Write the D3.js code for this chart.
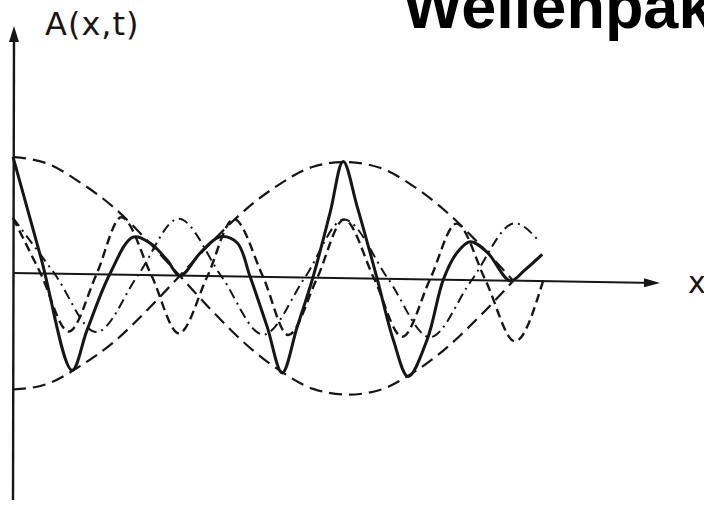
<!DOCTYPE html>
<html>
<head>
<meta charset="utf-8">
<script src="https://cdn.jsdelivr.net/npm/d3@7"></script>
<style>
  body { margin: 0; background: #fff; }
  svg { display: block; }
</style>
</head>
<body>
<svg id="chart"></svg>
<script>
// values; x in arbitrary units (node at 5 and 15), A in units of one component amplitude
var envX = [0, 1, 2, 3, 4, 5, 6, 7, 8, 9, 10, 11, 12, 13, 14, 15];
var envA = [2.02, 1.92, 1.6, 1.18, 0.62, 0, -0.62, -1.18, -1.62, -1.93, -2.02, -1.93, -1.62, -1.18, -0.62, 0];

var wave1X = [0, 0.83, 1.67, 2.5, 3.25, 4.15, 4.97, 5.83, 6.62, 7.5, 8.25, 9.12, 9.93, 10.83, 11.67, 12.5, 13.3, 14.17, 15.05, 15.9];
var wave1A = [0.96, 0, -1, 0, 1, 0, -1, 0, 1, 0, -1, 0, 1.02, 0, -1, 0, 0.98, 0, -1.05, 0.02];

var wave2X = [0, 1.25, 2.5, 3.75, 4.97, 6.25, 7.5, 8.75, 9.93, 11.25, 12.5, 13.75, 15.05, 15.8];
var wave2A = [0.96, 0, -1, 0, 0.99, 0, -1, 0, 1.02, 0, -1, 0, 1.0, 0.68];

var sumX = [0, 0.85, 1.77, 2.22, 2.91, 3.6, 4.11, 4.62, 5.01, 5.61, 6.21, 6.72, 7.11, 7.62, 8.07, 8.52, 9.0, 9.51, 9.9, 10.32, 10.92, 11.4, 11.85, 12.42, 12.9, 13.32, 13.71, 14.22, 14.91, 15.36, 15.87];
var sumA = [2.02, 0.25, -1.67, -0.97, 0.02, 0.66, 0.56, 0.27, 0, 0.4, 0.69, 0.59, 0, -0.86, -1.66, -0.86, 0.02, 1.14, 2.03, 1.25, 0, -1.05, -1.69, -1.04, 0, 0.48, 0.67, 0.49, 0, 0.2, 0.47];

var xMax = 19.4, aTop = 4.26, aBottom = -3.94;

var width = 704, height = 511;
var origin = { left: 13, top: 273 };
var ink = "#161616";

var svg = d3.select("#chart")
    .attr("width", width)
    .attr("height", height);

var x = d3.scaleLinear().domain([0, xMax]).range([0, 647]);
var y = d3.scaleLinear().domain([aBottom, aTop]).range([227, -245]);

// the drawing's x axis droops a little to the right
var plot = svg.append("g")
    .attr("transform", "translate(" + origin.left + "," + origin.top + ") skewY(0.88)");

function pts(xs, as) {
	return xs.map(function(d, i) { return [d, as[i]]; });
}

var smooth = d3.line()
    .x(function(d) { return x(d[0]); })
    .y(function(d) { return y(d[1]); })
    .curve(d3.curveMonotoneX);

var sketch = d3.line()
    .x(function(d) { return x(d[0]); })
    .y(function(d) { return y(d[1]); })
    .curve(d3.curveCatmullRom.alpha(0.5));

// envelope, both signs
plot.append("path")
    .attr("d", smooth(pts(envX, envA)))
    .attr("fill", "none").attr("stroke", ink)
    .attr("stroke-width", 2.2).attr("stroke-dasharray", "13,7");
plot.append("path")
    .attr("d", smooth(pts(envX, envA.map(function(a) { return -a; }))))
    .attr("fill", "none").attr("stroke", ink)
    .attr("stroke-width", 2.2).attr("stroke-dasharray", "13,7");

// the two partial waves
plot.append("path")
    .attr("d", smooth(pts(wave1X, wave1A)))
    .attr("fill", "none").attr("stroke", ink)
    .attr("stroke-width", 2.4).attr("stroke-dasharray", "9,5");
plot.append("path")
    .attr("d", smooth(pts(wave2X, wave2A)))
    .attr("fill", "none").attr("stroke", ink)
    .attr("stroke-width", 2).attr("stroke-dasharray", "10,5,2,5");

// superposition
plot.append("path")
    .attr("d", sketch(pts(sumX, sumA)))
    .attr("fill", "none").attr("stroke", ink)
    .attr("stroke-width", 3).attr("stroke-linejoin", "round");

// axes
plot.append("line")
    .attr("x1", x(0)).attr("y1", 0)
    .attr("x2", x(xMax) - 4).attr("y2", 0)
    .attr("stroke", ink).attr("stroke-width", 2);
plot.append("path")
    .attr("d", "M" + x(xMax) + ",0L" + (x(xMax) - 16) + ",-4.5L" + (x(xMax) - 16) + ",4.5Z")
    .attr("fill", ink);

svg.append("line")
    .attr("x1", origin.left).attr("y1", origin.top + y(aBottom))
    .attr("x2", origin.left + 1).attr("y2", origin.top + y(aTop) + 8)
    .attr("stroke", ink).attr("stroke-width", 2.4);
svg.append("path")
    .attr("d", "M" + (origin.left + 1) + "," + (origin.top + y(aTop) - 2) +
        "L" + (origin.left - 4) + "," + (origin.top + y(aTop) + 14) +
        "L" + (origin.left + 6) + "," + (origin.top + y(aTop) + 14) + "Z")
    .attr("fill", ink);

svg.append("text")
    .attr("x", 45).attr("y", 35)
    .attr("font-family", "DejaVu Sans").attr("font-size", 32)
    .attr("letter-spacing", 1)
    .attr("fill", ink)
    .text("A(x,t)");

svg.append("text")
    .attr("x", 688).attr("y", 293)
    .attr("font-family", "DejaVu Sans").attr("font-size", 30)
    .attr("fill", ink)
    .text("x");

svg.append("text")
    .attr("x", 403).attr("y", 28)
    .attr("font-family", "Liberation Sans, Arial, sans-serif").attr("font-size", 63)
    .attr("font-weight", "bold")
    .attr("fill", "#000")
    .text("Wellenpaket");
</script>
</body>
</html>
